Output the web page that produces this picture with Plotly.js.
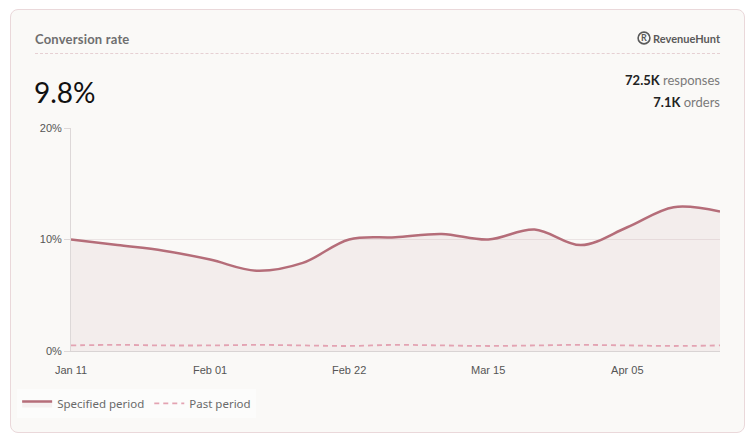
<!DOCTYPE html>
<html>
<head>
<meta charset="utf-8">
<script src="https://cdn.plot.ly/plotly-3.0.1.min.js"></script>
<style>
  html, body { margin: 0; padding: 0; background: #ffffff; }
  body { width: 752px; height: 435px; position: relative; overflow: hidden; font-family: "Lato", "Noto Sans", sans-serif; }
  .card { position: absolute; left: 10px; top: 9px; width: 733px; height: 422px; border: 1px solid #ead8da; border-radius: 8px; background: #faf9f7; }
  .title { position: absolute; left: 35px; top: 31px; font-size: 13px; font-weight: 700; color: #6f6f6f; letter-spacing: 0.2px; }
  .rule { position: absolute; left: 35px; top: 53px; width: 685px; border-top: 1px dashed #e6d0d3; }
  .brand { position: absolute; right: 32px; top: 31px; font-size: 11px; font-weight: 700; color: #5a5a5a; display: flex; align-items: center; gap: 2px; }
  .big { position: absolute; left: 34px; top: 75px; font-size: 28px; color: #111; font-family: "Lato", sans-serif; }
  .stats { position: absolute; right: 32px; top: 69px; font-size: 13px; color: #7a7a7a; text-align: right; line-height: 22px; }
  .stats b { color: #222; font-weight: 700; }
  #chart { position: absolute; left: 0; top: 0; width: 752px; height: 435px; }
</style>
</head>
<body>
<div class="card"></div>
<div class="title">Conversion rate</div>
<div class="rule"></div>
<div class="brand">
  <svg width="14" height="14" viewBox="0 0 14 14"><circle cx="7" cy="7" r="5.9" fill="none" stroke="#5a5a5a" stroke-width="1.6"/><text x="7" y="10.3" font-size="9" font-weight="700" text-anchor="middle" fill="#5a5a5a" font-family="Lato">R</text></svg>
  <span>RevenueHunt</span>
</div>
<div class="big">9.8%</div>
<div class="stats"><div><b>72.5K</b> responses</div><div><b>7.1K</b> orders</div></div>
<div id="chart"></div>
<script>
const weeks = [
  "2025-01-11", "2025-01-18", "2025-01-25", "2025-02-01", "2025-02-08",
  "2025-02-15", "2025-02-22", "2025-03-01", "2025-03-08", "2025-03-15",
  "2025-03-22", "2025-03-29", "2025-04-05", "2025-04-12", "2025-04-19",
];
const specifiedRate = [10.0, 9.5, 9.0, 8.2, 7.2, 7.9, 10.0, 10.2, 10.5, 10.0, 10.9, 9.5, 11.1, 12.9, 12.5];
const pastRate = [0.5, 0.55, 0.5, 0.5, 0.55, 0.5, 0.45, 0.55, 0.5, 0.45, 0.5, 0.55, 0.5, 0.45, 0.5];
const yTicks = [0, 10, 20];
const yTickText = ["0%", "10%", "20%"];

const lineColor = "#b56d79";
const pastColor = "#e3a3b2";

const traces = [
  {
    x: weeks,
    y: specifiedRate,
    name: "Specified period",
    type: "scatter",
    mode: "lines",
    fill: "tozeroy",
    fillcolor: "rgba(190,140,150,0.10)",
    line: { color: lineColor, width: 2.5, shape: "spline", smoothing: 1 },
    hoverinfo: "skip",
  },
  {
    x: weeks,
    y: pastRate,
    name: "Past period",
    type: "scatter",
    mode: "lines",
    line: { color: pastColor, width: 1.8, dash: "5px,4px", shape: "spline" },
    hoverinfo: "skip",
  },
];

const tickFont = { family: "Liberation Sans, Arial, sans-serif", size: 11, color: "#555" };

const layout = {
  width: 752,
  height: 435,
  paper_bgcolor: "rgba(0,0,0,0)",
  plot_bgcolor: "rgba(0,0,0,0)",
  margin: { l: 71, r: 32, t: 128, b: 84, pad: 0 },
  showlegend: true,
  xaxis: {
    type: "date",
    range: [weeks[0], weeks[weeks.length - 1]],
    tick0: weeks[0],
    dtick: 21 * 86400000,
    tickformat: "%b %d",
    showgrid: false,
    zeroline: false,
    showline: true,
    linecolor: "#d9d4d4",
    linewidth: 1,
    ticks: "outside",
    ticklen: 9,
    tickcolor: "rgba(0,0,0,0)",
    tickfont: tickFont,
    fixedrange: true,
  },
  yaxis: {
    range: [0, 20],
    tickvals: yTicks,
    ticktext: yTickText,
    showgrid: true,
    gridcolor: "#ebe4e4",
    gridwidth: 1,
    zeroline: false,
    showline: true,
    linecolor: "#ddd8d8",
    ticks: "outside",
    ticklen: 6,
    tickcolor: "#ddd8d8",
    tickfont: tickFont,
    fixedrange: true,
  },
  legend: {
    orientation: "h",
    x: -0.083,
    xanchor: "left",
    y: -0.235,
    yanchor: "middle",
    bgcolor: "rgba(255,255,255,0.45)",
    font: { family: "Noto Sans, sans-serif", size: 11.5, color: "#6a6a6a" },
    itemwidth: 30,
  },
};

Plotly.newPlot(document.getElementById("chart"), traces, layout, {
  displayModeBar: false,
  staticPlot: true,
});
</script>
</body>
</html>
